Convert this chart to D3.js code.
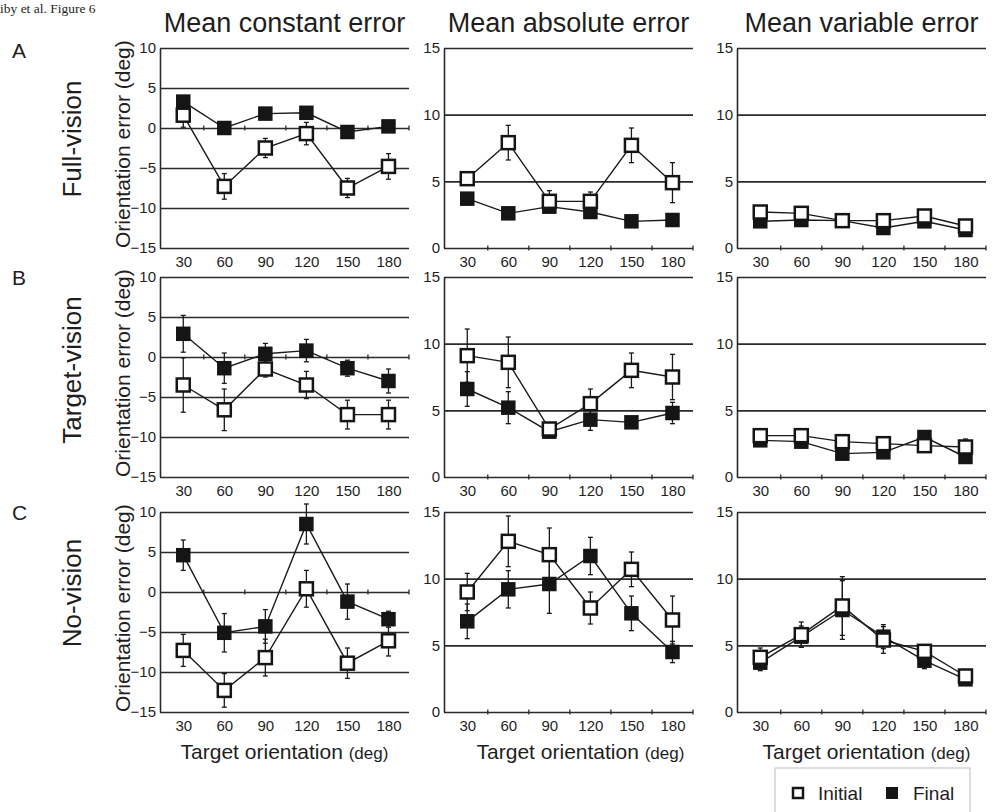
<!DOCTYPE html>
<meta charset="utf-8">
<title>Figure 6</title>
<script src="https://d3js.org/d3.v7.min.js"></script>
<style>
body { margin: 0; background: #fff; }
text { font-family: "Liberation Sans", Arial, sans-serif; fill: #1e1e1e; }
.grid line, .grid path { stroke: #2a2a2a; stroke-width: 1.6px; }
</style>
<body>
<div id="fig"></div>
<script>
// target orientations (deg) on the x axis
var orientations = [30, 60, 90, 120, 150, 180];
var minorTicks = [45, 75, 105, 135, 165, 195];

var rowLabels = ["Full-vision", "Target-vision", "No-vision"];
var panelLetters = ["A", "B", "C"];
var colTitles = ["Mean constant error", "Mean absolute error", "Mean variable error"];

var constTicks = [-15, -10, -5, 0, 5, 10];
var absTicks = [0, 5, 10, 15];

// values per row: [Full-vision, Target-vision, No-vision]
var constInitial = [
  [1.6, -7.3, -2.5, -0.7, -7.5, -4.8],
  [-3.5, -6.6, -1.5, -3.5, -7.2, -7.2],
  [-7.3, -12.3, -8.2, 0.4, -8.9, -6.1]
];
var constInitialSE = [
  [1.5, 1.6, 1.2, 1.4, 1.2, 1.6],
  [3.4, 2.6, 1.0, 1.7, 1.8, 1.8],
  [2.0, 2.1, 2.3, 2.3, 1.9, 1.9]
];
var constFinal = [
  [3.3, 0.0, 1.8, 1.9, -0.5, 0.2],
  [2.9, -1.4, 0.4, 0.8, -1.4, -3.0],
  [4.6, -5.1, -4.3, 8.5, -1.2, -3.4]
];
var constFinalSE = [
  [0.6, 0.4, 0.7, 0.6, 0.4, 0.4],
  [2.3, 1.9, 1.3, 1.4, 1.0, 1.5],
  [1.9, 2.4, 2.1, 2.5, 2.2, 1.0]
];

var absInitial = [
  [5.2, 7.9, 3.5, 3.5, 7.7, 4.9],
  [9.1, 8.6, 3.6, 5.5, 8.0, 7.5],
  [9.0, 12.8, 11.8, 7.8, 10.7, 6.9]
];
var absInitialSE = [
  [0.5, 1.3, 0.8, 0.7, 1.3, 1.5],
  [2.0, 1.9, 0.4, 1.1, 1.3, 1.7],
  [1.4, 1.9, 2.0, 1.2, 1.3, 1.8]
];
var absFinal = [
  [3.7, 2.6, 3.1, 2.7, 2.0, 2.1],
  [6.6, 5.2, 3.4, 4.3, 4.1, 4.8],
  [6.8, 9.2, 9.6, 11.7, 7.4, 4.5]
];
var absFinalSE = [
  [0.3, 0.2, 0.3, 0.3, 0.2, 0.2],
  [1.3, 1.2, 0.3, 0.8, 0.3, 0.8],
  [1.3, 1.4, 2.2, 1.4, 1.3, 0.8]
];

var varInitial = [
  [2.7, 2.6, 2.05, 2.05, 2.4, 1.65],
  [3.1, 3.1, 2.65, 2.5, 2.35, 2.25],
  [4.1, 5.8, 7.95, 5.4, 4.55, 2.7]
];
var varInitialSE = [
  [0.3, 0.3, 0.2, 0.3, 0.3, 0.2],
  [0.3, 0.3, 0.3, 0.3, 0.3, 0.6],
  [0.7, 0.95, 2.2, 1.0, 0.5, 0.2]
];
var varFinal = [
  [2.0, 2.1, 2.05, 1.5, 2.0, 1.35],
  [2.75, 2.65, 1.75, 1.85, 3.0, 1.5],
  [3.7, 5.65, 7.65, 5.65, 3.85, 2.45]
];
var varFinalSE = [
  [0.2, 0.2, 0.2, 0.2, 0.3, 0.2],
  [0.3, 0.3, 0.3, 0.3, 0.3, 0.3],
  [0.6, 0.8, 2.2, 0.9, 0.6, 0.2]
];

// layout
var colX = [160, 444, 737],
    rowY = [48, 277, 512],
    pw = 249, ph = 200;

var svg = d3.select("#fig").append("svg")
  .attr("width", 995)
  .attr("height", 812);

svg.append("text")
  .attr("x", 0).attr("y", 13)
  .style("font-family", "'Liberation Serif', 'Times New Roman', serif")
  .style("font-size", "13.5px")
  .text("iby et al. Figure 6");

var cols = [
  {ticks: constTicks, dom: [-15, 10], ini: constInitial, iniSE: constInitialSE, fin: constFinal, finSE: constFinalSE},
  {ticks: absTicks, dom: [0, 15], ini: absInitial, iniSE: absInitialSE, fin: absFinal, finSE: absFinalSE},
  {ticks: absTicks, dom: [0, 15], ini: varInitial, iniSE: varInitialSE, fin: varFinal, finSE: varFinalSE}
];

var x = d3.scaleLinear().domain([13, 195]).range([0, pw]);

// column titles
colTitles.forEach(function(t, c) {
  svg.append("text")
    .attr("x", colX[c] + pw / 2).attr("y", 32)
    .attr("text-anchor", "middle")
    .style("font-size", "27px")
    .text(t);
});

var rowLabelY = [139, 370, 593];
var letterY = [58, 285, 520];

rowLabels.forEach(function(lab, r) {
  svg.append("text")
    .attr("x", 12).attr("y", letterY[r])
    .style("font-size", "21px")
    .text(panelLetters[r]);
  svg.append("text")
    .attr("transform", "translate(81," + rowLabelY[r] + ") rotate(-90)")
    .attr("text-anchor", "middle")
    .style("font-size", "26px")
    .text(lab);
  svg.append("text")
    .attr("transform", "translate(130," + (rowY[r] + ph) + ") rotate(-90)")
    .attr("text-anchor", "start")
    .style("font-size", "21px")
    .text("Orientation error (deg)");

  cols.forEach(function(col, c) {
    var g = svg.append("g")
      .attr("transform", "translate(" + colX[c] + "," + rowY[r] + ")");

    var y = d3.scaleLinear().domain(col.dom).range([ph, 0]);

    // gridlines + y labels
    var ga = g.append("g")
      .attr("class", "grid")
      .call(d3.axisLeft(y).tickValues(col.ticks).tickSize(-pw).tickSizeOuter(0).tickPadding(4)
        .tickFormat(d3.format("d")));
    ga.selectAll("text").style("font-size", "15px").attr("fill", "#1e1e1e");

    // minor ticks on zero line
    g.append("g").selectAll("line")
      .data(minorTicks)
      .join("line")
        .attr("x1", function(d) { return x(d); })
        .attr("x2", function(d) { return x(d); })
        .attr("y1", y(0) - 2.5)
        .attr("y2", y(0) + 2.5)
        .attr("stroke", "#2a2a2a")
        .attr("stroke-width", 1.3);

    // x labels
    var xa = g.append("g")
      .attr("transform", "translate(0," + ph + ")")
      .call(d3.axisBottom(x).tickValues(orientations).tickSize(0).tickPadding(8));
    xa.select(".domain").remove();
    xa.selectAll("text").style("font-size", "15px").attr("fill", "#1e1e1e");

    if (r === 2) {
      var offs = [0, 12, 5];
      var t = g.append("text")
        .attr("x", pw / 2 + offs[c]).attr("y", ph + 47)
        .attr("text-anchor", "middle")
        .style("font-size", "21px")
        .text("Target orientation ");
      t.append("tspan").style("font-size", "17px").text("(deg)");
    }

    var series = [
      {m: col.fin[r], se: col.finSE[r], open: false},
      {m: col.ini[r], se: col.iniSE[r], open: true}
    ];

    var line = d3.line()
      .x(function(d, i) { return x(orientations[i]); })
      .y(function(d) { return y(d); });

    series.forEach(function(s) {
      g.append("path")
        .datum(s.m)
        .attr("d", line)
        .attr("fill", "none")
        .attr("stroke", "#1a1a1a")
        .attr("stroke-width", 1.4);
    });

    series.forEach(function(s) {
      var eb = g.append("g")
        .attr("stroke", "#1a1a1a")
        .attr("stroke-width", 1.3);
      s.m.forEach(function(v, i) {
        var cx = x(orientations[i]);
        var lo = y(v - s.se[i]), hi = y(v + s.se[i]);
        eb.append("line").attr("x1", cx).attr("x2", cx).attr("y1", lo).attr("y2", hi);
        eb.append("line").attr("x1", cx - 2.5).attr("x2", cx + 2.5).attr("y1", lo).attr("y2", lo);
        eb.append("line").attr("x1", cx - 2.5).attr("x2", cx + 2.5).attr("y1", hi).attr("y2", hi);
      });
    });

    series.forEach(function(s) {
      g.append("g").selectAll("rect")
        .data(s.m)
        .join("rect")
          .attr("x", function(d, i) { return x(orientations[i]) - 6.5; })
          .attr("y", function(d) { return y(d) - 6.5; })
          .attr("width", 13)
          .attr("height", 13)
          .attr("fill", s.open ? "#fff" : "#151515")
          .attr("stroke", "#151515")
          .attr("stroke-width", s.open ? 2.5 : 1.5);
    });
  });
});

// legend
var lg = svg.append("g");
lg.append("rect")
  .attr("x", 775).attr("y", 768)
  .attr("width", 195).attr("height", 60)
  .attr("fill", "none")
  .attr("stroke", "#bbb")
  .attr("stroke-width", 1);
lg.append("rect")
  .attr("x", 793).attr("y", 788).attr("width", 10).attr("height", 10)
  .attr("fill", "#fff").attr("stroke", "#151515").attr("stroke-width", 2.5);
lg.append("text")
  .attr("x", 818).attr("y", 800)
  .style("font-size", "19px")
  .text("Initial");
lg.append("rect")
  .attr("x", 886).attr("y", 787).attr("width", 12).attr("height", 12)
  .attr("fill", "#151515");
lg.append("text")
  .attr("x", 913).attr("y", 800)
  .style("font-size", "19px")
  .text("Final");
</script>
